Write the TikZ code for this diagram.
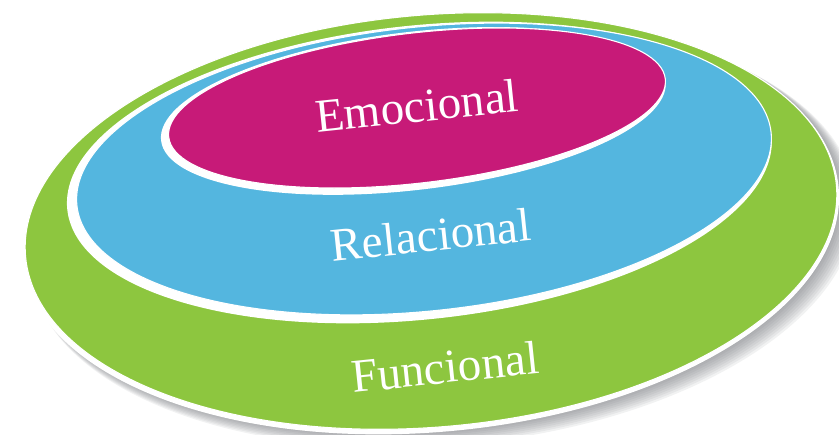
\documentclass[tikz,border=0pt]{standalone}
\usepackage{fontspec}
\setmainfont{Liberation Serif}
\usetikzlibrary{positioning, calc}
\definecolor{cFuncFill}{RGB}{141, 198, 63}
\definecolor{cRelFill}{RGB}{84, 182, 223}
\definecolor{cEmoFill}{RGB}{199, 26, 120}
\definecolor{cShadow}{RGB}{105, 108, 114}
\tikzset{
    % texto de cada capa
    layerText/.style={text=white, font=\fontsize{47}{56}\selectfont, rotate=6},
    % borde blanco fino de cada elipse
    rimLine/.style={draw=white, line width=1.1pt},
    baseRim/.style={fill=white}
}

\begin{document}
\begin{tikzpicture}[x=1pt, y=1pt]
	\useasboundingbox (0,0) rectangle (839,435);

	% ==========================================
	% 1. Capa funcional (verde)
	% ==========================================
	\begin{scope}[shift={(431,214)}, rotate=5]
		\foreach \k in {1,...,9}
			\fill [cShadow, opacity=0.09] (1.2*\k, -2-1.3*\k)
				ellipse [x radius=408pt+0.7*\k pt, y radius=207pt+0.5*\k pt];
		\fill [baseRim] (-1,-2.5) ellipse [x radius=410pt, y radius=208.5pt];
		\fill [cFuncFill, rimLine] (0,0) ellipse [x radius=407pt, y radius=206pt];
	\end{scope}

	% ==========================================
	% 2. Capa relacional (azul)
	% ==========================================
	\begin{scope}[shift={(424,266)}, rotate=6]
		\fill [baseRim] (-5,-3) ellipse [x radius=354pt, y radius=147pt];
		\fill [cRelFill, rimLine] (0,0) ellipse [x radius=349pt, y radius=142pt];
	\end{scope}

	% ==========================================
	% 3. Capa emocional (magenta)
	% ==========================================
	\begin{scope}[shift={(417,327)}, rotate=6.7]
		\fill [baseRim] (-4,-2.5) ellipse [x radius=254pt, y radius=79pt];
		\fill [cEmoFill, rimLine] (0,0) ellipse [x radius=250pt, y radius=75pt];
	\end{scope}

	% --- textos ---
	\node [layerText] (tEmo) at (417,329) {Emocional};
	\node [layerText] (tRel) at (431,200) {Relacional};
	\node [layerText] (tFunc) at (445,68) {Funcional};

\end{tikzpicture}
\end{document}
